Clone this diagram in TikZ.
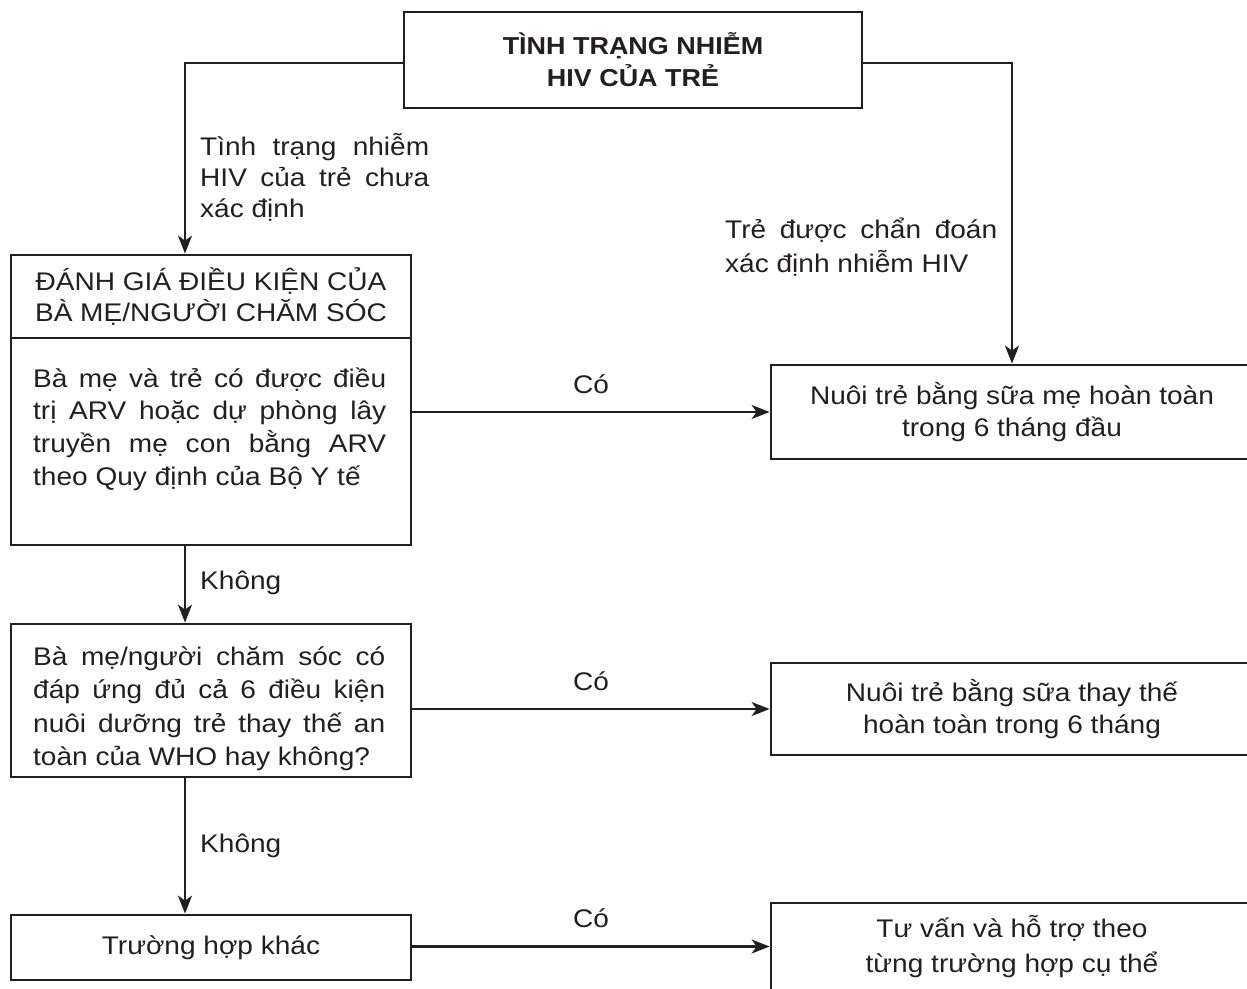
\documentclass[tikz,border=0pt]{standalone}
\usepackage{fontspec}
\setmainfont[FakeStretch=1.1]{Liberation Sans}
\usetikzlibrary{arrows.meta}
\definecolor{ink}{HTML}{231F20}
\begin{document}
\begin{tikzpicture}[x=1pt,y=-1pt,
  box/.style={draw=ink, line width=2.8pt, rectangle, inner sep=0pt, text=ink, align=center},
  conn/.style={draw=ink, line width=2.2pt},
  arr/.style={conn, -{Stealth[length=18pt,width=14pt,inset=5pt]}},
  txt/.style={inner sep=0pt, text=ink, font=\fontsize{25.5}{33}\selectfont},
  lab/.style={txt, anchor=base west}]
\clip (0,0) rectangle (1247,988);
\fill[white] (0,0) rectangle (1247,988);
% boxes
\node[box, minimum width=458pt, minimum height=96pt, font=\bfseries\fontsize{24.5}{32}\selectfont] (top) at (633,60) {TÌNH TRẠNG NHIỄM\\HIV CỦA TRẺ};
\node[box, minimum width=400pt, minimum height=83pt, font=\fontsize{25.5}{31}\selectfont] (hdr) at (211,296.5) {ĐÁNH GIÁ ĐIỀU KIỆN CỦA\\BÀ MẸ/NGƯỜI CHĂM SÓC};
\node[box, minimum width=400pt, minimum height=207pt] (body1) at (211,441.5) {};
\node[box, minimum width=400pt, minimum height=153pt] (box2) at (211,700.5) {};
\node[box, minimum width=400pt, minimum height=65pt, font=\fontsize{25.5}{33}\selectfont] (box3) at (211,947.5) {Trường hợp khác};
\node[box, minimum width=482pt, minimum height=94pt, font=\fontsize{25.5}{32}\selectfont] (rb1) at (1012,412) {Nuôi trẻ bằng sữa mẹ hoàn toàn\\trong 6 tháng đầu};
\node[box, minimum width=482pt, minimum height=92pt, font=\fontsize{25.5}{32}\selectfont] (rb2) at (1012,709) {Nuôi trẻ bằng sữa thay thế\\hoàn toàn trong 6 tháng};
\node[box, minimum width=482pt, minimum height=87pt, font=\fontsize{25.5}{35}\selectfont] (rb3) at (1012,946.5) {Tư vấn và hỗ trợ theo\\từng trường hợp cụ thể};
% box texts
\node[lab] (t1) at (33,387) {\parbox[t]{353pt}{\fontsize{25.5}{32.7}\selectfont
  \makebox[353pt][s]{Bà mẹ và trẻ có được điều}\\
  \makebox[353pt][s]{trị ARV hoặc dự phòng lây}\\
  \makebox[353pt][s]{truyền mẹ con bằng ARV}\\
  theo Quy định của Bộ Y tế}};
\node[lab] (t2) at (33,665) {\parbox[t]{352pt}{\fontsize{25.5}{33.5}\selectfont
  \makebox[352pt][s]{Bà mẹ/người chăm sóc có}\\
  \makebox[352pt][s]{đáp ứng đủ cả 6 điều kiện}\\
  \makebox[352pt][s]{nuôi dưỡng trẻ thay thế an}\\
  toàn của WHO hay không?}};
% edge labels
\node[lab] (lblL) at (200,155) {\parbox[t]{229pt}{\fontsize{25.5}{31}\selectfont
  \makebox[229pt][s]{Tình trạng nhiễm}\\
  \makebox[229pt][s]{HIV của trẻ chưa}\\
  xác định}};
\node[lab] (lblR) at (725,238) {\parbox[t]{272pt}{\fontsize{25.5}{34}\selectfont
  \makebox[272pt][s]{Trẻ được chẩn đoán}\\
  xác định nhiễm HIV}};
\node[lab] (k1) at (200,589) {Không};
\node[lab] (k2) at (200,852) {Không};
% connectors
\draw[arr] ([yshift=-3pt]top.west) -| ([xshift=-26pt]hdr.north);
\draw[arr] ([yshift=-3pt]top.east) -| (rb1.north);
\draw[arr] (rb1.west -| body1.east) -- node[txt, midway, anchor=base, yshift=19pt] (c1) {Có} (rb1.west);
\draw[arr] ([xshift=-26pt]body1.south) -- ([xshift=-26pt]box2.north);
\draw[arr] (rb2.west -| box2.east) -- node[txt, midway, anchor=base, yshift=19pt] (c2) {Có} (rb2.west);
\draw[arr] ([xshift=-26pt]box2.south) -- ([xshift=-26pt]box3.north);
\draw[arr] (rb3.west -| box3.east) -- node[txt, midway, anchor=base, yshift=19pt] (c3) {Có} (rb3.west);
\end{tikzpicture}
\end{document}
